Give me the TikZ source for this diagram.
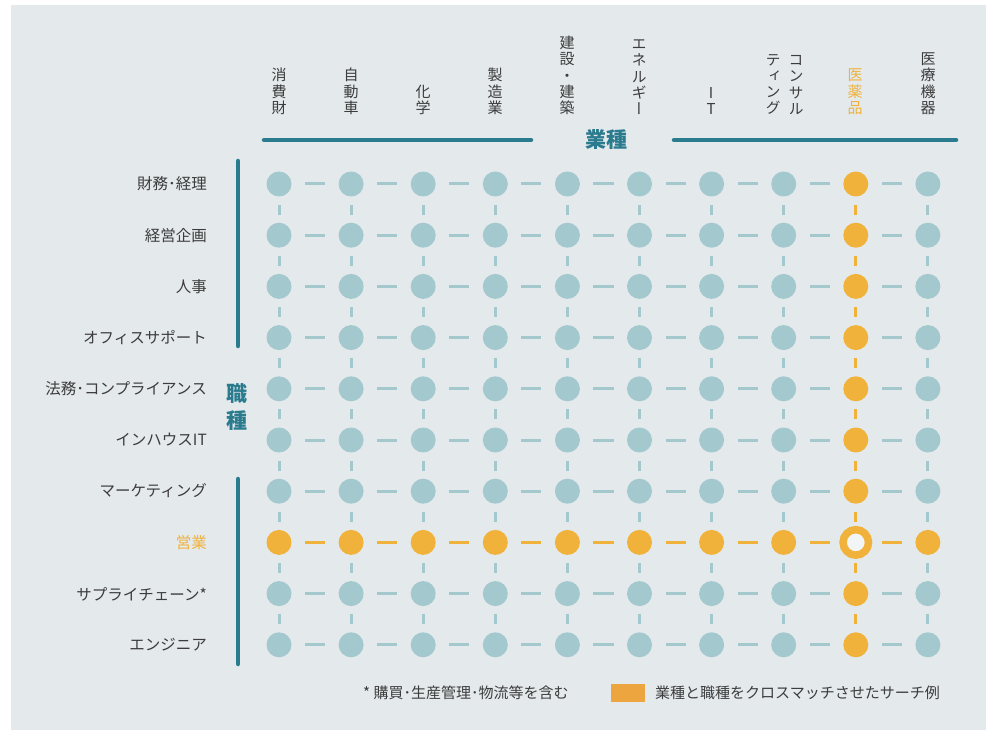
\documentclass[tikz,border=0pt]{standalone}
\usepackage{fontspec}
\setmainfont{Noto Sans CJK JP}
\newfontfamily\vjp[RawFeature=+vert]{Noto Sans CJK JP}
\definecolor{bgc}{HTML}{E4E9EC}
\definecolor{tealc}{HTML}{A3C8CE}
\definecolor{darkteal}{HTML}{2A7B8E}
\definecolor{orangec}{HTML}{F0B23A}
\definecolor{legendc}{HTML}{EDA63F}
\definecolor{txtc}{HTML}{3C3C3C}
\definecolor{ringc}{HTML}{F2F5F6}
\begin{document}
\begin{tikzpicture}[x=1pt,y={(0pt,-1pt)},
  dot/.style={circle, fill=tealc, minimum size=25pt, inner sep=0pt},
  odot/.style={dot, fill=orangec},
  ring/.style={circle, draw=orangec, line width=7.5pt, fill=ringc, minimum size=25.5pt, inner sep=0pt},
  hd/.style={line width=3pt, shorten <=26pt, shorten >=26pt},
  vd/.style={line width=3pt, shorten <=20.6pt, shorten >=20.6pt},
  rowlab/.style={anchor=east, inner sep=0pt, text=txtc, font=\fontsize{15.5}{18}\selectfont},
  collab/.style={anchor=south, inner sep=0pt, align=center, text=txtc, font=\vjp\fontsize{15}{16.3}\selectfont},
  axisline/.style={line width=4.5pt, darkteal, line cap=round},
  axislab/.style={inner sep=0pt, text=darkteal, align=center, font=\bfseries\fontsize{21}{27}\selectfont},
  leg/.style={anchor=west, inner sep=0pt, text=txtc, font=\fontsize{15}{18}\selectfont}
]
\useasboundingbox (0,0) rectangle (986,730);
\fill[bgc] (11,5) rectangle (986,730);

% grid of circles
\foreach \r in {1,...,10}{
  \foreach \c in {1,...,10}{
    \ifnum\r=8
      \ifnum\c=9 \tikzset{cur/.style={ring}}\else\tikzset{cur/.style={odot}}\fi
    \else
      \ifnum\c=9 \tikzset{cur/.style={odot}}\else\tikzset{cur/.style={dot}}\fi
    \fi
    \node[cur] (c\r-\c) at ({279+72.1*(\c-1)},{184+51.2*(\r-1)}) {};
  }
}
% horizontal dashes
\foreach \r in {1,...,10}{
  \foreach \c [count=\cn from 2] in {1,...,9}{
    \ifnum\r=8 \tikzset{dc/.style={orangec}}\else\tikzset{dc/.style={tealc}}\fi
    \draw[hd, dc] (c\r-\c.center) -- (c\r-\cn.center);
  }
}
% vertical dashes
\foreach \r [count=\rn from 2] in {1,...,9}{
  \foreach \c in {1,...,10}{
    \ifnum\c=9 \tikzset{dc/.style={orangec}}\else\tikzset{dc/.style={tealc}}\fi
    \draw[vd, dc] (c\r-\c.center) -- (c\rn-\c.center);
  }
}

% row labels
\node[rowlab] (l1) at (207,184) {財務･経理};
\node[rowlab] (l2) at (207,236) {経営企画};
\node[rowlab] (l3) at (207,287) {人事};
\node[rowlab] (l4) at (207,338) {オフィスサポート};
\node[rowlab] (l5) at (207,389) {法務･コンプライアンス};
\node[rowlab] (l6) at (207,440) {インハウスIT};
\node[rowlab] (l7) at (207,491) {マーケティング};
\node[rowlab, text=orangec] (l8) at (207,543) {営業};
\node[rowlab] (l9) at (207,594) {サプライチェーン*};
\node[rowlab] (l10) at (207,645) {エンジニア};

% column labels
\node[collab] (h1) at (279,115) {消\\費\\財};
\node[collab] (h2) at (351,115) {自\\動\\車};
\node[collab] (h3) at (423,115) {化\\学};
\node[collab] (h4) at (495,115) {製\\造\\業};
\node[collab] (h5) at (567,115) {建\\設\\・\\建\\築};
\node[collab] (h6) at (639,115) {エ\\ネ\\ル\\ギ\\ー};
\node[collab] (h7) at (711,115) {I\\T};
\node[collab] (h8a) at (796,115) {コ\\ン\\サ\\ル};
\node[collab] (h8b) at (773,115) {テ\\ィ\\ン\\グ};
\node[collab, text=orangec] (h9) at (855,115) {医\\薬\\品};
\node[collab] (h10) at (928,115) {医\\療\\機\\器};

% axes
\coordinate (ta1) at (264,140);
\coordinate (ta2) at (531,140);
\coordinate (tb1) at (674,140);
\coordinate (tb2) at (956,140);
\draw[axisline] (ta1) -- (ta2);
\draw[axisline] (tb1) -- (tb2);
\node[axislab] (gyo) at (606,140) {業種};

\coordinate (la1) at (238,161);
\coordinate (la2) at (238,346);
\coordinate (lb1) at (238,479);
\coordinate (lb2) at (238,664);
\draw[axisline] (la1) -- (la2);
\draw[axisline] (lb1) -- (lb2);
\node[axislab] (shoku) at (237,407) {職\\種};

% legend
\node[leg] (n1) at (363,693) {* 購買･生産管理･物流等を含む};
\node[fill=legendc, minimum width=34pt, minimum height=18pt, inner sep=0pt] (sw) at (628,693) {};
\node[leg] (n2) at (655,693) {業種と職種をクロスマッチさせたサーチ例};
\end{tikzpicture}
\end{document}
